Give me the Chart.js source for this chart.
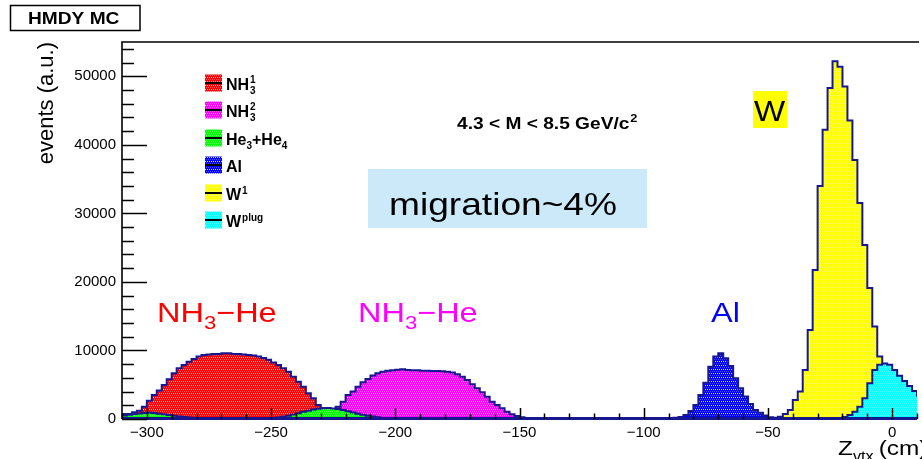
<!DOCTYPE html>
<html><head><meta charset="utf-8">
<script src="https://cdn.jsdelivr.net/npm/chart.js@4.4.0/dist/chart.umd.min.js"></script>
<style>html,body{margin:0;padding:0;background:#fff;overflow:hidden}canvas{display:block}</style>
</head><body>
<canvas id="c" width="922" height="459"></canvas>
<script>
// ---- data (histograms, 2 cm bins; first bin centre + contents) ----
const BIN_WIDTH = 2;
const xTickLabels = [-300, -250, -200, -150, -100, -50, 0];
const yTickLabels = [0, 10000, 20000, 30000, 40000, 50000];
const seriesNames = ['NH3_1', 'NH3_2', 'He3+He4', 'Al', 'W1', 'Wplug'];

const nh3aFirst = -309;
const nh3aValues = [730, 730, 1000, 1220, 1800, 2680, 3500, 4140, 4960, 5790, 6670, 7400, 7880, 8370, 8760, 9100, 9340, 9400, 9490, 9490, 9590, 9590, 9490, 9490, 9400, 9340, 9250, 9100, 8900, 8650, 8250, 7880, 7400, 6910, 6180, 5450, 4720, 3750, 3020, 2040, 1560, 900, 500, 250, 100];

const nh3bFirst = -227;
const nh3bValues = [500, 1000, 1800, 2530, 3500, 4000, 4700, 5350, 5840, 6330, 6670, 6910, 7050, 7100, 7200, 7250, 7150, 7100, 7100, 7050, 7050, 7000, 7000, 6950, 6900, 6800, 6520, 6180, 5690, 5060, 4480, 3890, 3260, 2530, 2040, 1560, 1070, 680, 440, 250, 120, 50];

const heFirst = -309;
const heValues = [500, 620, 740, 820, 880, 900, 860, 780, 680, 580, 480, 380, 290, 210, 150, 100, 70, 50, 40, 30, 30, 30, 30, 30, 30, 40, 50, 60, 70, 80, 120, 220, 340, 480, 650, 850, 1050, 1220, 1380, 1500, 1580, 1600, 1550, 1450, 1300, 1120, 950, 780, 620, 480, 350, 240, 150, 90, 40];

const alFirst = -89;
const alValues = [100, 200, 300, 580, 1170, 2040, 3500, 5300, 7640, 9100, 9600, 8860, 7740, 5940, 4480, 3300, 2200, 1300, 900, 500, 250, 100];

const w1First = -49;
const w1Values = [100, 200, 340, 730, 1300, 2770, 4000, 7150, 13000, 21750, 34000, 42200, 48300, 52200, 51400, 48500, 43550, 37800, 31500, 25400, 19100, 13500, 9100, 7500, 5000, 3000, 1800, 1100, 700, 400, 250];

const wplugFirst = -25;
const wplugValues = [50, 100, 150, 300, 580, 1070, 1800, 3020, 5200, 7150, 7900, 8100, 7900, 7150, 6300, 5550, 4800, 4100, 3400];

// ---- helpers ----
const canvas = document.getElementById('c');
const ctx = canvas.getContext('2d');
const FONT = '"Liberation Sans", Arial, Helvetica, sans-serif';
const NAVY = '#17178f';

function toPoints(first, values) {
  const pts = [{x: first - BIN_WIDTH, y: 0}];
  values.forEach((v, i) => pts.push({x: first + BIN_WIDTH * i, y: v}));
  pts.push({x: first + BIN_WIDTH * values.length, y: 0});
  return pts;
}
function makePattern(color) {
  const c = document.createElement('canvas'); c.width = 4; c.height = 4;
  const g = c.getContext('2d');
  g.fillStyle = color; g.fillRect(0, 0, 4, 4);
  g.fillStyle = 'rgba(255,255,255,0.85)';
  g.fillRect(1, 1, 1, 1); g.fillRect(3, 1, 1, 1);
  g.fillStyle = 'rgba(255,255,255,0.3)';
  g.fillRect(0, 3, 1, 1); g.fillRect(2, 3, 1, 1);
  return ctx.createPattern(c, 'repeat');
}
const colors = ['#ff0000', '#ff00ff', '#00ff00', '#0000ff', '#ffff00', '#00ffff'];
const patterns = colors.map(makePattern);

function ds(label, first, values, idx) {
  return {
    label, data: toPoints(first, values), stepped: 'middle', fill: 'origin',
    backgroundColor: patterns[idx], borderColor: NAVY, borderWidth: 2,
    pointRadius: 0, order: 6 - idx, tension: 0
  };
}
const fmt = v => v < 0 ? '\u2212' + Math.abs(v) : String(v);
const isLabel = (list, v) => list.some(t => Math.abs(t - v) < 1e-6);

// rich text: runs [{t, size, bold, dy, color}] drawn with horizontal stretch sx
function runs(g, list, x, y, sx, color) {
  let cx = x;
  for (const r of list) {
    g.save();
    g.font = (r.bold ? 'bold ' : '') + r.size + 'px ' + FONT;
    g.fillStyle = r.color || color;
    g.textBaseline = 'alphabetic'; g.textAlign = 'left';
    g.translate(cx + (r.dx || 0), y + (r.dy || 0));
    g.scale(sx, 1);
    g.fillText(r.t, 0, 0);
    const w = g.measureText(r.t).width * sx;
    g.restore();
    if (!r.noAdvance) cx += w + (r.dx || 0) + (r.gap || 0);
  }
  return cx;
}

const rootPlugin = {
  id: 'rootStyle',
  afterDatasetsDraw(chart) {
    const g = chart.ctx;
    const a = chart.chartArea;
    const xs = chart.scales.x, ys = chart.scales.y;
    g.save();
    // histogram baseline
    g.strokeStyle = NAVY; g.lineWidth = 3;
    g.beginPath(); g.moveTo(a.left, a.bottom - 0.5); g.lineTo(a.right, a.bottom - 0.5); g.stroke();
    // frame
    g.strokeStyle = '#000'; g.lineWidth = 1.6;
    g.beginPath();
    g.moveTo(a.right + 2, a.top); g.lineTo(a.left, a.top); g.lineTo(a.left, a.bottom);
    g.stroke();
    // y ticks (inside)
    g.lineWidth = 1.5;
    for (let v = 0; v <= 54000; v += 2000) {
      const py = Math.round(ys.getPixelForValue(v)) + 0.5;
      const len = (v % 10000 === 0) ? 25 : 12;
      g.beginPath(); g.moveTo(a.left, py); g.lineTo(a.left + len, py); g.stroke();
    }
    // x ticks (inside)
    for (let v = -310; v <= 10; v += 10) {
      const px = Math.round(xs.getPixelForValue(v)) + 0.5;
      const len = (v % 50 === 0) ? 11 : 5.5;
      g.beginPath(); g.moveTo(px, a.bottom); g.lineTo(px, a.bottom - len); g.stroke();
    }
    g.restore();

    // ---- title box ----
    g.save();
    g.fillStyle = '#fff'; g.fillRect(10, 5, 130, 25);
    g.strokeStyle = '#000'; g.lineWidth = 1.5; g.strokeRect(10.5, 5.5, 129.5, 25);
    g.restore();
    runs(g, [{t: 'HMDY MC', size: 16.5, bold: true}], 28, 24, 1.16, '#000');

    // ---- axis titles ----
    g.save();
    g.translate(53, 42); g.rotate(-Math.PI / 2);
    g.font = '22px ' + FONT; g.fillStyle = '#000'; g.textAlign = 'right'; g.textBaseline = 'alphabetic';
    g.fillText('events (a.u.)', 0, 0);
    g.restore();
    runs(g, [
      {t: 'Z', size: 21},
      {t: 'vtx', size: 14, dy: 6, gap: 5},
      {t: '(cm)', size: 21}
    ], 838, 455, 1.16, '#000');

    // ---- legend ----
    const legendY = [83, 110, 138, 165, 193, 220];
    legendY.forEach((cy, i) => {
      g.save();
      g.fillStyle = patterns[i]; g.fillRect(205, cy - 8.5, 17, 17);
      g.strokeStyle = '#000'; g.lineWidth = 2;
      g.beginPath(); g.moveTo(205, cy); g.lineTo(222, cy); g.stroke();
      g.restore();
    });
    const lx = 226;
    let e = runs(g, [{t: 'NH', size: 16, bold: true}], lx, legendY[0] + 7, 1, '#000');
    runs(g, [{t: '1', size: 10, bold: true, noAdvance: true, dy: -7}, {t: '3', size: 10, bold: true, dy: 4}], e + 1, legendY[0] + 7, 1, '#000');
    e = runs(g, [{t: 'NH', size: 16, bold: true}], lx, legendY[1] + 7, 1, '#000');
    runs(g, [{t: '2', size: 10, bold: true, noAdvance: true, dy: -7}, {t: '3', size: 10, bold: true, dy: 4}], e + 1, legendY[1] + 7, 1, '#000');
    runs(g, [
      {t: 'He', size: 16, bold: true},
      {t: '3', size: 10, bold: true, dy: 4},
      {t: '+He', size: 16, bold: true},
      {t: '4', size: 10, bold: true, dy: 4}
    ], lx, legendY[2] + 7, 1, '#000');
    runs(g, [{t: 'Al', size: 16, bold: true}], lx, legendY[3] + 7, 1, '#000');
    runs(g, [{t: 'W', size: 16, bold: true, gap: 1}, {t: '1', size: 10, bold: true, dy: -6}], lx, legendY[4] + 7, 1, '#000');
    runs(g, [{t: 'W', size: 16, bold: true, gap: 1}, {t: 'plug', size: 10, bold: true, dy: -6}], lx, legendY[5] + 7, 1, '#000');

    // ---- annotations ----
    runs(g, [{t: '4.3 < M < 8.5 GeV/c', size: 16.5, bold: true, gap: 1}, {t: '2', size: 11, bold: true, dy: -7}], 457, 129, 1.16, '#000');
    g.save(); g.fillStyle = '#cce9f9'; g.fillRect(368, 169, 279, 59); g.restore();
    runs(g, [{t: 'migration~4%', size: 32}], 389, 215, 1.16, '#000');
    g.save(); g.fillStyle = '#ffff00'; g.fillRect(753, 91, 34, 37); g.restore();
    runs(g, [{t: 'W', size: 30}], 754, 121, 1.1, '#000');
    const nh = (x, col) => runs(g, [
      {t: 'NH', size: 28}, {t: '3', size: 19, dy: 7}, {t: '\u2212He', size: 28}
    ], x, 322, 1.16, col);
    nh(157, '#ff0000');
    nh(358, '#ff00ff');
    runs(g, [{t: 'Al', size: 28}], 711, 322, 1.16, '#0000ff');
  }
};

new Chart(ctx, {
  type: 'line',
  data: {
    datasets: [
      ds(seriesNames[0], nh3aFirst, nh3aValues, 0),
      ds(seriesNames[1], nh3bFirst, nh3bValues, 1),
      ds(seriesNames[2], heFirst, heValues, 2),
      ds(seriesNames[3], alFirst, alValues, 3),
      ds(seriesNames[4], w1First, w1Values, 4),
      ds(seriesNames[5], wplugFirst, wplugValues, 5)
    ]
  },
  options: {
    responsive: false, animation: false, events: [],
    layout: {padding: {top: 42, right: 0, bottom: 0, left: 0}},
    plugins: {legend: {display: false}, tooltip: {enabled: false}, title: {display: false}},
    scales: {
      x: {
        type: 'linear', min: -310, max: 10,
        grid: {display: false, drawTicks: false}, border: {display: false},
        ticks: {
          stepSize: 10, autoSkip: false, maxRotation: 0, padding: 5,
          color: '#000', font: {family: FONT, size: 15},
          callback: v => isLabel(xTickLabels, v) ? fmt(Math.round(v)) : ''
        },
        afterFit: s => { s.height = 40; }
      },
      y: {
        type: 'linear', min: 0, max: 55000,
        grid: {display: false, drawTicks: false}, border: {display: false},
        ticks: {
          stepSize: 5000, autoSkip: false, padding: 6,
          color: '#000', font: {family: FONT, size: 15},
          callback: v => isLabel(yTickLabels, v) ? String(Math.round(v)) : ''
        },
        afterFit: s => { s.width = 122; }
      }
    }
  },
  plugins: [rootPlugin]
});
</script>
</body></html>
